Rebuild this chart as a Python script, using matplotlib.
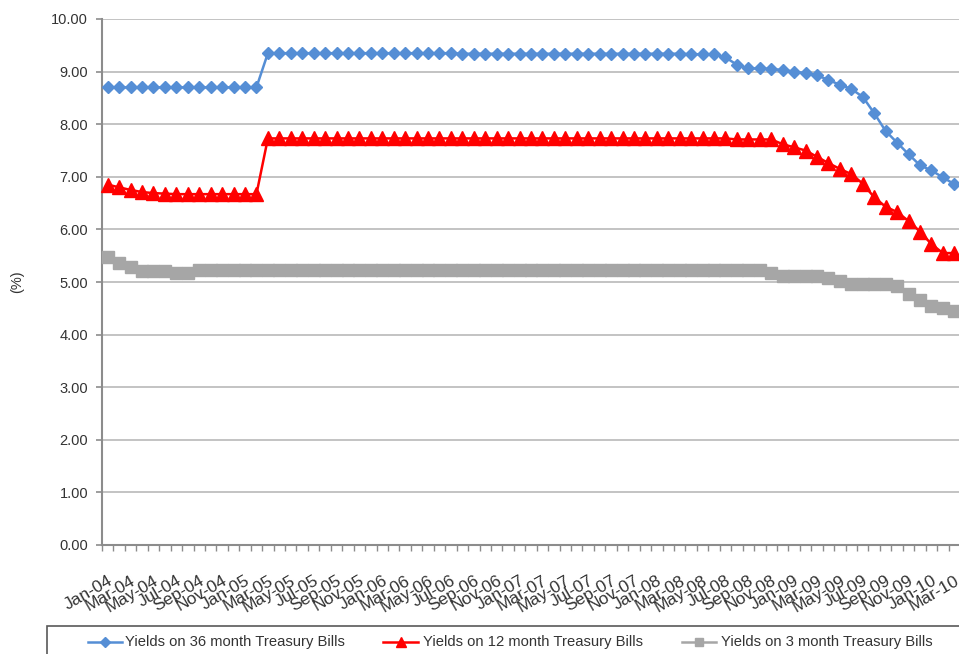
import numpy as np
import matplotlib
matplotlib.use("Agg")
import matplotlib.pyplot as plt
from matplotlib.lines import Line2D
from matplotlib.patches import Rectangle

plt.rcParams['font.family'] = ['Liberation Sans', 'DejaVu Sans']

# Monthly yields, Jan-04 .. Mar-10 (%)
yield_36m = [
    8.70, 8.70, 8.70, 8.70, 8.70, 8.70, 8.70, 8.70, 8.70, 8.70, 8.70, 8.70, 8.70, 8.70,
    9.35, 9.35, 9.35, 9.35, 9.35, 9.35, 9.35, 9.35, 9.35, 9.35, 9.35, 9.35, 9.35, 9.35,
    9.35, 9.35, 9.35,
    9.34, 9.34, 9.34, 9.34, 9.34, 9.34, 9.34, 9.34, 9.34, 9.34, 9.34, 9.34, 9.34, 9.34,
    9.34, 9.34, 9.34, 9.34, 9.34, 9.34,
    9.33, 9.33, 9.33,
    9.27, 9.13, 9.06, 9.06, 9.05, 9.03, 9.00, 8.97, 8.93, 8.84, 8.75, 8.67, 8.52, 8.21,
    7.87, 7.65, 7.43, 7.22, 7.12, 6.99, 6.86,
]
yield_12m = [
    6.85, 6.80, 6.75, 6.71, 6.69, 6.68, 6.67, 6.67, 6.67, 6.67, 6.67, 6.67, 6.67, 6.67,
    7.73, 7.73, 7.73, 7.73, 7.73, 7.73, 7.73, 7.73, 7.73, 7.73, 7.73, 7.73, 7.73, 7.73,
    7.73, 7.73, 7.73, 7.73, 7.73, 7.73, 7.73, 7.73, 7.73, 7.73, 7.73, 7.73, 7.73, 7.73,
    7.73, 7.73, 7.73, 7.73, 7.73, 7.73, 7.73, 7.73, 7.73, 7.73, 7.73, 7.73, 7.73,
    7.71, 7.71, 7.71, 7.71,
    7.62, 7.56, 7.50, 7.38, 7.26, 7.15, 7.05, 6.87, 6.61, 6.43, 6.33, 6.16, 5.96, 5.72,
    5.55, 5.55,
]
yield_3m = [
    5.47, 5.36, 5.29, 5.21, 5.21, 5.21, 5.17, 5.17,
    5.23, 5.23, 5.23, 5.23, 5.23, 5.23, 5.23, 5.23, 5.23, 5.23, 5.23, 5.23, 5.23, 5.23,
    5.23, 5.23, 5.23, 5.23, 5.23, 5.23, 5.23, 5.23, 5.23, 5.23, 5.23, 5.23, 5.23, 5.23,
    5.23, 5.23, 5.23, 5.23, 5.23, 5.23, 5.23, 5.23, 5.23, 5.23, 5.23, 5.23, 5.23, 5.23,
    5.23, 5.23, 5.23, 5.23, 5.23, 5.23, 5.23, 5.23,
    5.18, 5.12, 5.12, 5.12, 5.12, 5.07, 5.02, 4.97, 4.97, 4.97, 4.97, 4.92, 4.77, 4.65,
    4.55, 4.50, 4.44,
]

tick_labels = [
    "Jan-04", "Mar-04", "May-04", "Jul-04", "Sep-04", "Nov-04",
    "Jan-05", "Mar-05", "May-05", "Jul-05", "Sep-05", "Nov-05",
    "Jan-06", "Mar-06", "May-06", "Jul-06", "Sep-06", "Nov-06",
    "Jan-07", "Mar-07", "May-07", "Jul-07", "Sep-07", "Nov-07",
    "Jan-08", "Mar-08", "May-08", "Jul-08", "Sep-08", "Nov-08",
    "Jan-09", "Mar-09", "May-09", "Jul-09", "Sep-09", "Nov-09",
    "Jan-10", "Mar-10",
]

series_names = [
    "Yields on 36 month Treasury Bills",
    "Yields on 12 month Treasury Bills",
    "Yields on 3 month Treasury Bills",
]

W, H = 959, 654
fig = plt.figure(figsize=(W / 100, H / 100), dpi=100)
fig.patch.set_facecolor("white")


def fx(px):
    return px / W


def fy(py):
    return 1 - py / H


ax = fig.add_axes([fx(102), fy(545), fx(858), (545 - 19) / H])

x = np.arange(len(yield_36m))
styles = [
    dict(color="#558ED5", marker="D", ms=6.4, lw=1.8),
    dict(color="#FF0000", marker="^", ms=9.6, lw=1.8),
    dict(color="#A6A6A6", marker="s", ms=8.4, lw=1.8),
]
for vals, st in zip([yield_36m, yield_12m, yield_3m], styles):
    ax.plot(x, vals, color=st["color"], lw=st["lw"], marker=st["marker"],
            ms=st["ms"], mec=st["color"], mfc=st["color"], clip_on=False,
            zorder=3)

ax.set_xlim(-0.5, len(x) - 0.5)
ax.set_ylim(0, 10)

text_col = "#333333"
axis_col = "#8C8C8C"

ax.set_yticks(np.arange(0, 11, 1))
ax.set_yticklabels([f"{v:.2f}" for v in range(0, 11)], fontsize=10.5, color=text_col)
ax.tick_params(axis="y", direction="out", length=4, width=1.2, color=axis_col, pad=6)
ax.yaxis.grid(True, color="#B3B3B3", lw=1.1)
ax.set_axisbelow(True)

ax.set_xticks(np.arange(0, len(x), 2))
ax.set_xticklabels(tick_labels, rotation=30, ha="right", va="top",
                   rotation_mode="anchor", fontsize=12.5, color=text_col)
ax.set_xticks(np.arange(-0.5, len(x), 1), minor=True)
ax.tick_params(axis="x", which="major", length=0, pad=20)
ax.tick_params(axis="x", which="minor", direction="out", length=4, width=1.0,
               color=axis_col)

for side in ("top", "right"):
    ax.spines[side].set_visible(False)
for side in ("left", "bottom"):
    ax.spines[side].set_color(axis_col)
    ax.spines[side].set_linewidth(1.5)

ax.set_ylabel("(%)", fontsize=10.5, color=text_col)
ax.yaxis.set_label_coords((18 + 6 - 102) / 858, 0.5)

# legend box along the bottom edge
fig.patches.append(Rectangle((fx(47), fy(700)), fx(1000), (700 - 626) / H,
                             transform=fig.transFigure, fill=False,
                             edgecolor="#595959", lw=1.2))
handle_x = [(88, 122), (383, 418), (682, 716)]
text_x = [125, 423, 721]
leg_y = 642
for (x0, x1), tx, name, st in zip(handle_x, text_x, series_names, styles):
    fig.lines.append(Line2D([fx(x0), fx(x1)], [fy(leg_y), fy(leg_y)],
                            transform=fig.transFigure, color=st["color"], lw=st["lw"]))
    fig.lines.append(Line2D([fx((x0 + x1) / 2)], [fy(leg_y)],
                            transform=fig.transFigure, color=st["color"],
                            marker=st["marker"], ms=st["ms"] * 0.75,
                            mec=st["color"], mfc=st["color"], lw=0))
    fig.text(fx(tx), fy(leg_y), name, fontsize=10.6, color=text_col,
             ha="left", va="center")

fig.savefig("out.png", dpi=100)
